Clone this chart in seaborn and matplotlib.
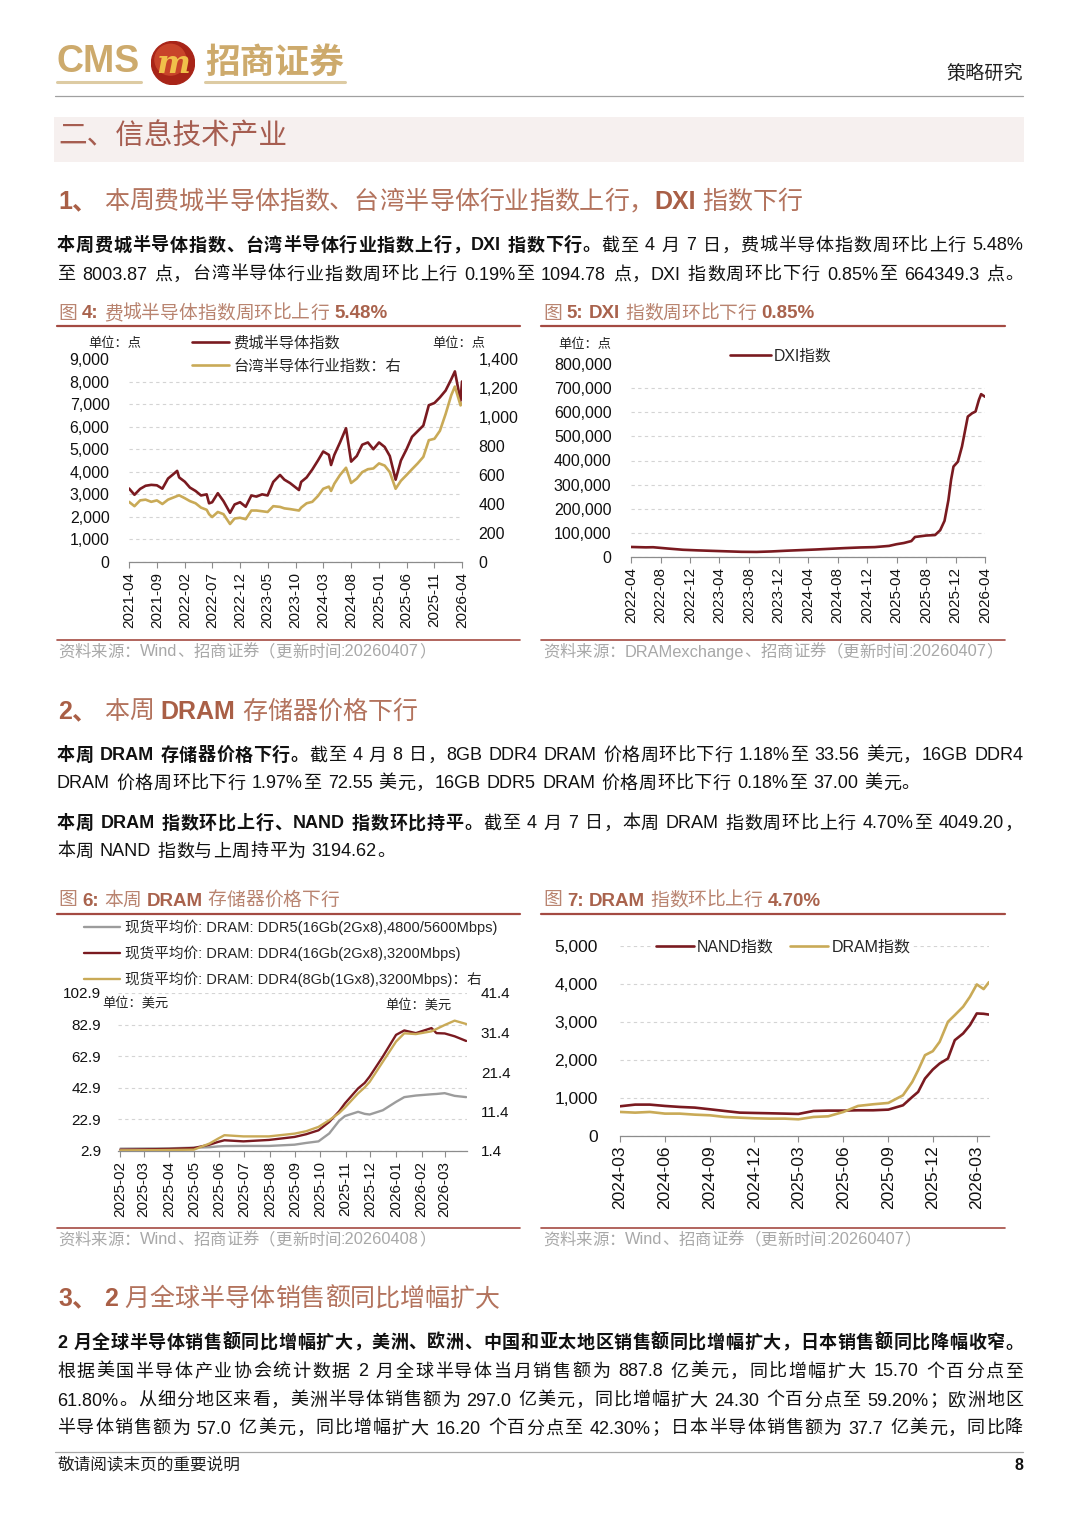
import numpy as np
import pandas as pd
import matplotlib
matplotlib.use('Agg')
import matplotlib.pyplot as plt
import matplotlib.dates as mdates
from matplotlib.ticker import FuncFormatter
from matplotlib.patches import Rectangle, Circle
from matplotlib.lines import Line2D
import seaborn as sns

sns.set_theme(style='white')
FAM = ['Liberation Sans', 'Noto Sans CJK SC']
plt.rcParams['font.family'] = FAM
plt.rcParams['axes.unicode_minus'] = False

# ---------------- DATA ----------------
# Fig 4: SOX (left) and Taiwan semiconductor index (right)
sox_dates = ['2021-04-07', '2021-05-07', '2021-06-07', '2021-07-07', '2021-08-07', '2021-09-07',
             '2021-10-07', '2021-11-07', '2021-12-07', '2021-12-27', '2022-01-07', '2022-02-07',
             '2022-03-07', '2022-04-07', '2022-05-07', '2022-06-07', '2022-06-20', '2022-07-07',
             '2022-08-07', '2022-09-07', '2022-10-13', '2022-11-07', '2022-12-07', '2023-01-07',
             '2023-02-07', '2023-03-07', '2023-04-07', '2023-05-07', '2023-06-07', '2023-07-14',
             '2023-08-07', '2023-09-07', '2023-10-26', '2023-11-07', '2023-12-07', '2024-01-07',
             '2024-02-07', '2024-03-07', '2024-04-07', '2024-04-19', '2024-05-07', '2024-06-07',
             '2024-07-10', '2024-08-07', '2024-09-07', '2024-10-07', '2024-11-07', '2024-12-07',
             '2025-01-07', '2025-02-07', '2025-03-07', '2025-04-08', '2025-05-07', '2025-06-07',
             '2025-07-07', '2025-08-07', '2025-09-07', '2025-10-07', '2025-11-07', '2025-12-07',
             '2026-01-07', '2026-02-07', '2026-02-27', '2026-03-30', '2026-04-07']
sox_vals = [3260, 2980, 3240, 3380, 3420, 3400,
            3250, 3700, 3900, 4040, 3750, 3560,
            3300, 3150, 2950, 3000, 2600, 2650,
            3050, 2700, 2180, 2550, 2650, 2450,
            2950, 2900, 3000, 2950, 3550, 3860,
            3650, 3500, 3190, 3550, 3750, 4100,
            4500, 4900, 4750, 4300, 4750, 5300,
            5930, 4450, 4700, 5200, 5300, 5000,
            5300, 5100, 4700, 3650, 4500, 5000,
            5550, 5800, 6050, 6950, 7050, 7300,
            7600, 8100, 8450, 7150, 8004]
tw_vals = [415, 385, 425, 430, 415, 425,
           400, 430, 445, 455, 460, 440,
           420, 405, 375, 360, 330, 310,
           345, 330, 262, 300, 305, 295,
           355, 355, 350, 345, 385, 380,
           370, 365, 355, 375, 405, 415,
           455, 505, 520, 490, 540, 600,
           650, 545, 575, 620, 640, 645,
           680, 665, 620, 505, 560, 600,
           640, 680, 725, 840, 850, 905,
           1020, 1150, 1210, 1080, 1095]
ticks4 = ['2021-04-07', '2021-09-07', '2022-02-07', '2022-07-07', '2022-12-07', '2023-05-07',
          '2023-10-07', '2024-03-07', '2024-08-07', '2025-01-07', '2025-06-07', '2025-11-07',
          '2026-04-07']

# Fig 5: DXI index
dxi_dates = ['2022-04-07', '2022-06-07', '2022-07-07', '2022-09-07', '2022-11-07', '2023-01-07',
             '2023-03-07', '2023-05-07', '2023-07-07', '2023-09-07', '2023-11-07', '2024-01-07',
             '2024-03-07', '2024-05-07', '2024-07-07', '2024-09-07', '2024-11-07', '2025-01-07',
             '2025-03-07', '2025-04-07', '2025-05-07', '2025-06-07', '2025-06-22', '2025-08-07',
             '2025-09-13', '2025-10-04', '2025-10-22', '2025-11-07', '2025-11-18', '2025-11-28',
             '2025-12-16', '2026-01-02', '2026-01-26', '2026-02-13', '2026-02-27', '2026-03-13',
             '2026-03-22', '2026-04-07']
dxi_vals = [41600, 40000, 40500, 35000, 30000, 27500,
            25500, 23500, 21500, 21000, 23000, 26000,
            28500, 31000, 34000, 37000, 39500, 41000,
            46000, 53000, 58000, 66000, 83000, 89000,
            91000, 111000, 150000, 236000, 320000, 375000,
            395000, 458000, 582000, 596000, 603000, 652000,
            675000, 664349]
ticks5 = ['2022-04-07', '2022-08-07', '2022-12-07', '2023-04-07', '2023-08-07', '2023-12-07',
          '2024-04-07', '2024-08-07', '2024-12-07', '2025-04-07', '2025-08-07', '2025-12-07',
          '2026-04-07']

# Fig 6: DRAM spot prices
dram_dates = ['2025-02-01', '2025-03-01', '2025-04-01', '2025-05-01', '2025-05-20', '2025-05-30',
              '2025-06-07', '2025-06-30', '2025-07-31', '2025-08-31', '2025-09-14', '2025-09-29',
              '2025-10-12', '2025-10-24', '2025-10-31', '2025-11-16', '2025-11-24', '2025-11-30',
              '2025-12-16', '2026-01-01', '2026-01-11', '2026-01-25', '2026-02-13', '2026-02-19',
              '2026-03-01', '2026-03-13', '2026-03-27']
ddr5_16 = [4.4, 4.5, 4.6, 5.0, 5.3, 5.8,
           6.0, 6.1, 6.1, 6.9, 8.0, 9.0,
           14.0, 22.0, 25.0, 27.7, 26.4, 26.0,
           28.7, 34.0, 37.0, 38.0, 38.8, 39.0,
           39.5, 37.8, 37.0]
ddr4_16 = [3.7, 3.9, 4.2, 4.8, 6.9, 8.6,
           9.7, 9.0, 9.9, 11.8, 13.5, 16.0,
           21.3, 28.0, 33.0, 42.5, 46.0, 50.0,
           62.7, 76.4, 79.2, 77.5, 80.7, 77.5,
           77.3, 75.5, 72.55]
ddr4_8 = [1.57, 1.60, 1.65, 1.74, 3.3, 4.5,
          5.4, 5.1, 5.1, 5.8, 6.4, 7.5,
          9.2, 11.0, 12.4, 16.0, 17.5, 18.9,
          24.0, 29.1, 31.2, 31.0, 31.7, 32.3,
          33.3, 34.4, 33.56]
ticks6 = ['2025-02-01', '2025-03-01', '2025-04-01', '2025-05-01', '2025-06-01', '2025-07-01',
          '2025-08-01', '2025-09-01', '2025-10-01', '2025-11-01', '2025-12-01', '2026-01-01',
          '2026-02-01', '2026-03-01']
yticks6_left = [2.9, 22.9, 42.9, 62.9, 82.9, 102.9]
yticks6_right = [1.4, 11.4, 21.4, 31.4, 41.4]

# Fig 7: NAND / DRAM index
idx_dates = ['2024-03-01', '2024-04-01', '2024-05-01', '2024-06-01', '2024-07-01', '2024-08-01',
             '2024-09-01', '2024-10-01', '2024-11-01', '2024-12-01', '2025-01-01', '2025-02-01',
             '2025-03-01', '2025-04-01', '2025-05-01', '2025-06-01', '2025-07-01', '2025-08-01',
             '2025-09-01', '2025-10-01', '2025-10-20', '2025-11-01', '2025-11-15', '2025-12-01',
             '2025-12-15', '2026-01-01', '2026-01-15', '2026-02-01', '2026-02-15', '2026-03-01',
             '2026-03-15', '2026-03-26']
nand_vals = [782, 826, 826, 791, 765, 747,
             703, 659, 615, 606, 598, 589,
             580, 659, 668, 668, 677, 677,
             694, 808, 1028, 1160, 1511, 1749,
             1907, 2039, 2522, 2698, 2917, 3225,
             3216, 3195]
dramidx_vals = [633, 615, 633, 589, 589, 562,
                545, 501, 483, 466, 457, 457,
                439, 501, 518, 633, 791, 835,
                870, 1072, 1424, 1731, 2127, 2232,
                2478, 3005, 3181, 3401, 3664, 3989,
                3866, 4049]
ticks7 = ['2024-03-01', '2024-06-01', '2024-09-01', '2024-12-01', '2025-03-01', '2025-06-01',
          '2025-09-01', '2025-12-01', '2026-03-01']

# ---------------- COLOURS ----------------
DARK = '#7a1a20'
GOLD = '#c9aa57'
GRAY = '#9c9c9c'
TITLE_C = '#b98470'
TITLE_B = '#a9634d'
RULE = '#a44a42'
HEAD_C = '#b3735d'
HEAD_B = '#a95f46'
SRC_C = '#a8a8a8'
BODY = '#111111'

W, H = 1080, 1527
fig = plt.figure(figsize=(W / 100, H / 100), dpi=100)
fig.patch.set_facecolor('white')
renderer = fig.canvas.get_renderer()


def fx(x):
    return x / W


def fy(y):
    return 1 - y / H


def hline(x0, x1, y, color, lw):
    fig.add_artist(Line2D([fx(x0), fx(x1)], [fy(y), fy(y)], color=color, lw=lw,
                          transform=fig.transFigure))


def tokens(s):
    out, buf = [], ''
    for ch in s:
        if ord(ch) < 128 and ch != ' ':
            buf += ch
        else:
            if buf:
                out.append(buf)
                buf = ''
            out.append(ch)
    if buf:
        out.append(buf)
    return out


def draw_line(x0, y, segs, size, x1=None, track=0.0):
    items = []
    for text, bold, color in segs:
        for tok in tokens(text):
            if tok == ' ':
                items.append((None, size * 100 / 72 * 0.278))
            else:
                t = fig.text(0, fy(y), tok, fontsize=size, color=color,
                             fontweight='bold' if bold else 'normal',
                             family=FAM, va='center', ha='left')
                w = t.get_window_extent(renderer).width
                items.append((t, w))
    total = sum(w for _, w in items)
    gap = track
    if x1 is not None and len(items) > 1:
        gap = (x1 - x0 - total) / (len(items) - 1)
    x = x0
    for t, w in items:
        if t is not None:
            t.set_x(fx(x))
        x += w + gap


def ax_at(x0, y0, x1, y1):
    return fig.add_axes([fx(x0), fy(y1), (x1 - x0) / W, (y1 - y0) / H])


def style_axes(ax, ylab=11.5, xlab=11, ypad=14):
    for s in ['top', 'right', 'left']:
        ax.spines[s].set_visible(False)
    ax.spines['bottom'].set_color('#8c8c8c')
    ax.spines['bottom'].set_linewidth(0.9)
    ax.grid(axis='y', ls=(0, (3, 3)), color='#d4d4d4', lw=0.8)
    ax.grid(axis='x', visible=False)
    ax.set_axisbelow(True)
    ax.tick_params(axis='y', length=0, labelsize=ylab, pad=ypad, labelcolor='#111111')
    ax.tick_params(axis='x', length=4, width=0.8, color='#8c8c8c', direction='out',
                   labelrotation=90, labelsize=xlab, pad=3, labelcolor='#111111', bottom=True)
    ax.set_xlabel('')
    ax.set_ylabel('')
    ax.set_facecolor('none')


def style_twin(ax2, ylab=11.5, ypad=12):
    for s in ['top', 'right', 'left', 'bottom']:
        ax2.spines[s].set_visible(False)
    ax2.grid(False)
    ax2.tick_params(axis='y', length=0, labelsize=ylab, pad=ypad, labelcolor='#111111')
    ax2.set_ylabel('')
    ax2.set_facecolor('none')


comma = FuncFormatter(lambda v, p: f'{v:,.0f}')

# ---------------- HEADER ----------------
fig.text(fx(56), fy(62), 'CMS', fontsize=27, fontweight='bold', color='#cdaa6c',
         family=['Liberation Sans Narrow', 'Liberation Sans'], va='center', ha='left')
lax = ax_at(149, 41, 197, 85)
lax.set_xlim(-1, 1)
lax.set_ylim(-1, 1)
lax.set_aspect('equal')
lax.axis('off')
lax.add_patch(Circle((0, 0), 0.98, color='#a82418'))
lax.add_patch(Circle((-0.12, 0.15), 0.7, color='#c8442a'))
lax.text(0, -0.05, 'm', fontsize=23, fontweight='bold', fontstyle='italic', color='#f0c04a',
         ha='center', va='center', family='DejaVu Serif')
fig.text(fx(205), fy(62), '招商证券', fontsize=25, fontweight='bold', color='#cdaa6c',
         family=['Noto Sans CJK SC'], va='center', ha='left')
hline(57, 141, 82, '#ddcba3', 2.2)
hline(205, 345, 82, '#ddcba3', 2.2)
fig.text(fx(1023), fy(73), '策略研究', fontsize=13.8, color='#222222',
         family=['Noto Sans CJK SC'], va='center', ha='right')
hline(55, 1023, 96, '#a0a0a0', 0.9)

# section band
fig.patches.append(Rectangle((fx(54), fy(162)), 970 / W, 45 / H, transform=fig.transFigure,
                             facecolor='#f6f0ef', edgecolor='none', zorder=0))
fig.text(fx(58), fy(136), '二、信息技术产业', fontsize=20.6, color='#a65d50',
         family=FAM, va='center', ha='left')

# ---------------- SECTION 1 TEXT ----------------
HS = 18
draw_line(58, 202, [('1、', True, HEAD_B), (' 本周费城半导体指数、台湾半导体行业指数上行，', False, HEAD_C),
                    ('DXI', True, HEAD_B), (' 指数下行', False, HEAD_C)], HS)
draw_line(57, 246, [('本周费城半导体指数、台湾半导体行业指数上行，DXI 指数下行。', True, BODY),
                    ('截至 4 月 7 日，费城半导体指数周环比上行 5.48%', False, BODY)], 13, x1=1023)
draw_line(57, 275, [('至 8003.87 点，台湾半导体行业指数周环比上行 0.19%至 1094.78 点，DXI 指数周环比下行 0.85%至 664349.3 点。',
                     False, BODY)], 13, x1=1023)

# Figure titles row 1
TS = 13.5
draw_line(58, 314, [('图 ', False, TITLE_C), ('4:', True, TITLE_B),
                    (' 费城半导体指数周环比上行 ', False, TITLE_C), ('5.48%', True, TITLE_B)], TS)
draw_line(543, 314, [('图 ', False, TITLE_C), ('5:', True, TITLE_B), (' ', False, TITLE_C),
                     ('DXI', True, TITLE_B), (' 指数周环比下行 ', False, TITLE_C),
                     ('0.85%', True, TITLE_B)], TS)
hline(57, 520, 326, RULE, 1.6)
hline(541, 1005, 326, RULE, 1.6)
hline(57, 520, 640, RULE, 1.2)
hline(541, 1005, 640, RULE, 1.2)
SS = 11.8
draw_line(58, 652, [('资料来源：Wind、招商证券（更新时间:20260407）', False, SRC_C)], SS)
draw_line(543, 652, [('资料来源：DRAMexchange、招商证券（更新时间:20260407）', False, SRC_C)], SS)

# ---------------- FIG 4 ----------------
df4 = pd.DataFrame({'date': pd.to_datetime(sox_dates), 'sox': sox_vals, 'tw': tw_vals})
ax4 = ax_at(129, 359, 462, 562)
sns.lineplot(data=df4, x='date', y='sox', ax=ax4, color=DARK, lw=1.9)
ax4b = ax4.twinx()
sns.lineplot(data=df4, x='date', y='tw', ax=ax4b, color=GOLD, lw=1.9)
style_axes(ax4, ylab=11.5, xlab=11, ypad=14)
style_twin(ax4b, ylab=11.5, ypad=12)
ax4.set_ylim(0, 9000)
ax4.set_yticks(range(0, 9001, 1000))
ax4.yaxis.set_major_formatter(comma)
ax4b.set_ylim(0, 1400)
ax4b.set_yticks(range(0, 1401, 200))
ax4b.yaxis.set_major_formatter(comma)
ax4.set_xlim(pd.Timestamp('2021-04-07'), pd.Timestamp('2026-04-07'))
ax4.set_xticks(pd.to_datetime(ticks4))
ax4.xaxis.set_major_formatter(mdates.DateFormatter('%Y-%m'))
ax4.get_ygridlines()[-1].set_visible(False)
ax4b.legend([ax4.lines[0], ax4b.lines[0]], ['费城半导体指数', '台湾半导体行业指数：右'],
            loc='upper left', bbox_to_anchor=(fx(192), fy(336)), bbox_transform=fig.transFigure,
            frameon=False, fontsize=11, handlelength=2.4, handletextpad=0.3,
            labelspacing=0.57, borderpad=0, borderaxespad=0)
fig.text(fx(88), fy(344), '单位：点', fontsize=9.5, color='#222222', family=FAM, va='center')
fig.text(fx(432), fy(344), '单位：点', fontsize=9.5, color='#222222', family=FAM, va='center')

# ---------------- FIG 5 ----------------
df5 = pd.DataFrame({'date': pd.to_datetime(dxi_dates), 'dxi': dxi_vals})
ax5 = ax_at(631, 364, 985, 557)
sns.lineplot(data=df5, x='date', y='dxi', ax=ax5, color=DARK, lw=1.9)
style_axes(ax5, ylab=11.5, xlab=11, ypad=14)
ax5.set_ylim(0, 800000)
ax5.set_yticks(range(0, 800001, 100000))
ax5.yaxis.set_major_formatter(comma)
ax5.set_xlim(pd.Timestamp('2022-04-07'), pd.Timestamp('2026-04-07'))
ax5.set_xticks(pd.to_datetime(ticks5))
ax5.xaxis.set_major_formatter(mdates.DateFormatter('%Y-%m'))
ax5.get_ygridlines()[-1].set_visible(False)
ax5.legend([ax5.lines[0]], ['DXI指数'], loc='center left',
           bbox_to_anchor=(fx(730), fy(356)), bbox_transform=fig.transFigure,
           frameon=False, fontsize=11.3, handlelength=2.6, handletextpad=0.2,
           borderpad=0, borderaxespad=0)
fig.text(fx(558), fy(345), '单位：点', fontsize=9.5, color='#222222', family=FAM, va='center')

# ---------------- SECTION 2 TEXT ----------------
draw_line(58, 712, [('2、', True, HEAD_B), (' 本周 ', False, HEAD_C), ('DRAM', True, HEAD_B),
                    (' 存储器价格下行', False, HEAD_C)], HS)
draw_line(57, 756, [('本周 DRAM 存储器价格下行。', True, BODY),
                    ('截至 4 月 8 日，8GB DDR4 DRAM 价格周环比下行 1.18%至 33.56 美元，16GB DDR4', False, BODY)],
          13, x1=1023)
draw_line(57, 784, [('DRAM 价格周环比下行 1.97%至 72.55 美元，16GB DDR5 DRAM 价格周环比下行 0.18%至 37.00 美元。',
                     False, BODY)], 13, track=0.6)
draw_line(57, 824, [('本周 DRAM 指数环比上行、NAND 指数环比持平。', True, BODY),
                    ('截至 4 月 7 日，本周 DRAM 指数周环比上行 4.70%至 4049.20，', False, BODY)],
          13, x1=1023)
draw_line(57, 852, [('本周 NAND 指数与上周持平为 3194.62。', False, BODY)], 13, track=0.6)

draw_line(58, 901, [('图 ', False, TITLE_C), ('6:', True, TITLE_B), (' 本周 ', False, TITLE_C),
                    ('DRAM', True, TITLE_B), (' 存储器价格下行', False, TITLE_C)], TS)
draw_line(543, 901, [('图 ', False, TITLE_C), ('7:', True, TITLE_B), (' ', False, TITLE_C),
                     ('DRAM', True, TITLE_B), (' 指数环比上行 ', False, TITLE_C),
                     ('4.70%', True, TITLE_B)], TS)
hline(57, 520, 914, RULE, 1.6)
hline(541, 1005, 914, RULE, 1.6)
hline(57, 520, 1228, RULE, 1.2)
hline(541, 1005, 1228, RULE, 1.2)
draw_line(58, 1240, [('资料来源：Wind、招商证券（更新时间:20260408）', False, SRC_C)], SS)
draw_line(543, 1240, [('资料来源：Wind、招商证券（更新时间:20260407）', False, SRC_C)], SS)

# ---------------- FIG 6 ----------------
df6 = pd.DataFrame({'date': pd.to_datetime(dram_dates), 'ddr5': ddr5_16, 'ddr4_16': ddr4_16,
                    'ddr4_8': ddr4_8})
ax6 = ax_at(118, 993, 467, 1151)
sns.lineplot(data=df6, x='date', y='ddr5', ax=ax6, color=GRAY, lw=1.7)
sns.lineplot(data=df6, x='date', y='ddr4_16', ax=ax6, color=DARK, lw=1.7)
ax6b = ax6.twinx()
sns.lineplot(data=df6, x='date', y='ddr4_8', ax=ax6b, color=GOLD, lw=1.7)
style_axes(ax6, ylab=11, xlab=11, ypad=12)
style_twin(ax6b, ylab=11, ypad=10)
ax6.set_ylim(2.9, 102.9)
ax6.set_yticks(yticks6_left)
ax6.yaxis.set_major_formatter(FuncFormatter(lambda v, p: f'{v:.1f}'))
ax6b.set_ylim(1.4, 41.4)
ax6b.set_yticks(yticks6_right)
ax6b.yaxis.set_major_formatter(FuncFormatter(lambda v, p: f'{v:.1f}'))
ax6.set_xlim(pd.Timestamp('2025-01-29'), pd.Timestamp('2026-03-28'))
ax6.set_xticks(pd.to_datetime(ticks6))
ax6.xaxis.set_major_formatter(mdates.DateFormatter('%Y-%m'))
ax6b.legend([ax6.lines[0], ax6.lines[1], ax6b.lines[0]],
            ['现货平均价: DRAM: DDR5(16Gb(2Gx8),4800/5600Mbps)',
             '现货平均价: DRAM: DDR4(16Gb(2Gx8),3200Mbps)',
             '现货平均价: DRAM: DDR4(8Gb(1Gx8),3200Mbps)：右'],
            loc='upper left', bbox_to_anchor=(fx(84), fy(920)), bbox_transform=fig.transFigure,
            frameon=False, fontsize=10.5, handlelength=2.5, handletextpad=0.3,
            labelspacing=0.7, borderpad=0, borderaxespad=0)
fig.text(fx(102), fy(1003), '单位：美元', fontsize=9.5, color='#222222', family=FAM, va='center')
fig.text(fx(385), fy(1005), '单位：美元', fontsize=9.5, color='#222222', family=FAM, va='center')

# ---------------- FIG 7 ----------------
df7 = pd.DataFrame({'date': pd.to_datetime(idx_dates), 'nand': nand_vals, 'dram': dramidx_vals})
ax7 = ax_at(620, 946, 989, 1136)
sns.lineplot(data=df7, x='date', y='nand', ax=ax7, color=DARK, lw=1.9)
sns.lineplot(data=df7, x='date', y='dram', ax=ax7, color=GOLD, lw=1.9)
style_axes(ax7, ylab=12.5, xlab=12.5, ypad=16)
ax7.set_ylim(0, 5000)
ax7.set_yticks(range(0, 5001, 1000))
ax7.yaxis.set_major_formatter(comma)
ax7.set_xlim(pd.Timestamp('2024-03-01'), pd.Timestamp('2026-03-26'))
ax7.set_xticks(pd.to_datetime(ticks7))
ax7.xaxis.set_major_formatter(mdates.DateFormatter('%Y-%m'))
leg7 = ax7.legend([ax7.lines[0], ax7.lines[1]], ['NAND指数', 'DRAM指数'], loc='center left',
                  bbox_to_anchor=(fx(654), fy(947)), bbox_transform=fig.transFigure,
                  frameon=True, fontsize=11.5, ncol=2, handlelength=2.4, handletextpad=0.2,
                  columnspacing=1.0, borderpad=0.1, borderaxespad=0)
leg7.get_frame().set_facecolor('white')
leg7.get_frame().set_edgecolor('none')
leg7.get_frame().set_alpha(1)

# ---------------- SECTION 3 TEXT ----------------
draw_line(58, 1299, [('3、', True, HEAD_B), (' ', False, HEAD_C), ('2', True, HEAD_B),
                     (' 月全球半导体销售额同比增幅扩大', False, HEAD_C)], HS)
draw_line(57, 1343, [('2 月全球半导体销售额同比增幅扩大，美洲、欧洲、中国和亚太地区销售额同比增幅扩大，日本销售额同比降幅收窄。',
                      True, BODY)], 13, x1=1023)
draw_line(57, 1372, [('根据美国半导体产业协会统计数据 2 月全球半导体当月销售额为 887.8 亿美元，同比增幅扩大 15.70 个百分点至',
                      False, BODY)], 13, x1=1023)
draw_line(57, 1401, [('61.80%。从细分地区来看，美洲半导体销售额为 297.0 亿美元，同比增幅扩大 24.30 个百分点至 59.20%；欧洲地区',
                      False, BODY)], 13, x1=1023)
draw_line(57, 1429, [('半导体销售额为 57.0 亿美元，同比增幅扩大 16.20 个百分点至 42.30%；日本半导体销售额为 37.7 亿美元，同比降',
                      False, BODY)], 13, x1=1023)

# ---------------- FOOTER ----------------
hline(55, 1023, 1452, '#a8a8a8', 0.9)
fig.text(fx(58), fy(1465), '敬请阅读末页的重要说明', fontsize=12, color='#222222',
         family=FAM, va='center', ha='left')
fig.text(fx(1023), fy(1465), '8', fontsize=11.5, fontweight='bold', color='#111111',
         family=FAM, va='center', ha='right')

fig.savefig('out.png', dpi=100, facecolor='white')
